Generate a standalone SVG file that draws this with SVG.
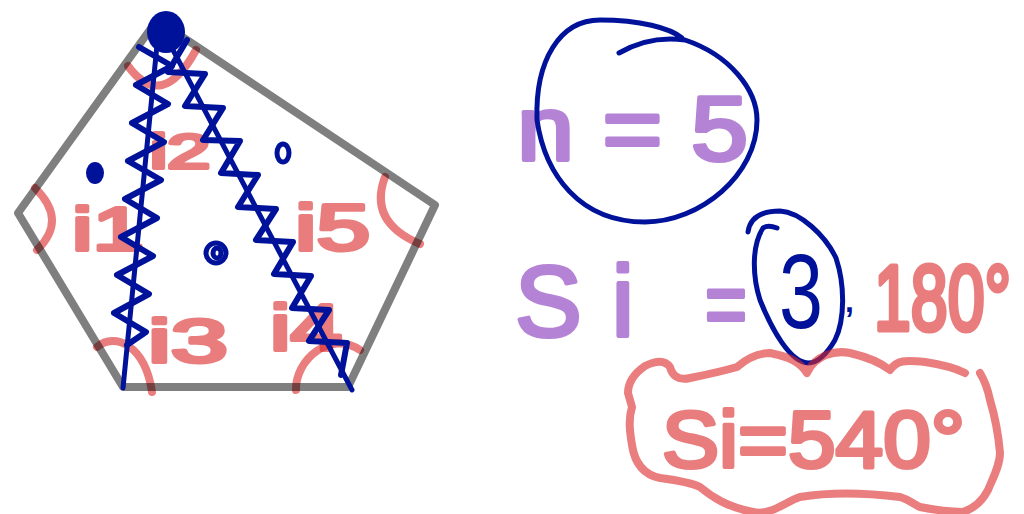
<svg xmlns="http://www.w3.org/2000/svg" width="1024" height="514" viewBox="0 0 1024 514">
<style>
.pk{fill:none;stroke:rgb(220,40,40);stroke-opacity:.6;stroke-width:8;stroke-linecap:round;stroke-linejoin:round}
.pkt{font-family:"Liberation Sans",Arial,sans-serif;fill:rgb(220,40,40);stroke:rgb(220,40,40);stroke-width:4;stroke-linejoin:round;opacity:.6}
.pu{font-family:"Liberation Sans",Arial,sans-serif;fill:rgb(120,30,180);stroke:rgb(120,30,180);stroke-width:4;stroke-linejoin:round;opacity:.55}
.bl{fill:none;stroke:#00129a;stroke-width:5;stroke-linecap:round;stroke-linejoin:round}
.zz{fill:none;stroke:#00129a;stroke-width:6;stroke-linecap:round;stroke-linejoin:round}
.blt{font-family:"Liberation Sans",Arial,sans-serif;fill:#00129a}
.gr{fill:none;stroke:#000;stroke-opacity:.5;stroke-width:8;stroke-linejoin:round}
</style>
<rect width="1024" height="514" fill="#fff"/>

<g id="angles">
<path class="pk" d="M35,188 Q68,220 37,250"/>
<path class="pk" d="M128,66 Q162,112 196,50"/>
<path class="pk" d="M385,177 Q368,222 420,244"/>
<path class="pk" d="M97,347 C115,332 145,345 152,392"/>
<path class="pk" d="M296,390 C295,360 330,330 360,350"/>
</g>
<g id="labels">
<text class="pkt" x="72" y="250" font-size="62" textLength="72" lengthAdjust="spacingAndGlyphs">i1</text>
<text class="pkt" x="150" y="168" font-size="48" textLength="60" lengthAdjust="spacingAndGlyphs">i2</text>
<text class="pkt" x="295" y="250" font-size="64" textLength="75" lengthAdjust="spacingAndGlyphs">i5</text>
<text class="pkt" x="148" y="362" font-size="62" textLength="80" lengthAdjust="spacingAndGlyphs">i3</text>
<text class="pkt" x="270" y="350" font-size="64" textLength="72" lengthAdjust="spacingAndGlyphs">i4</text>
</g>

<g id="pentagon">
<polygon class="gr" points="18,213 123,387 348,387 435,205 157,20"/>
</g>

<g id="diagonals">
<line class="bl" x1="157" y1="45" x2="123" y2="388"/>
<line class="bl" x1="173" y1="50" x2="352" y2="390"/>
<polyline class="zz" points="139,47 172,66 136,85 168,104 132,123 164,142 128,161 161,180 125,199 157,218 121,237 153,256 117,275 149,294 114,313 146,332 127,345"/>
<polyline class="zz" points="187,40 168,72 205,74 185,106 223,108 203,140 240,141 221,173 258,175 238,207 276,209 256,240 293,242 274,274 311,276 292,308 329,310 309,341 347,343 341,375"/>
<ellipse cx="166" cy="32" rx="19" ry="21" fill="#00129a"/>
<ellipse cx="95" cy="173" rx="9" ry="11" fill="#00129a"/>
<ellipse class="bl" cx="283" cy="153" rx="6" ry="9"/>
<ellipse class="bl" cx="216" cy="253" rx="10" ry="10"/>
<ellipse class="bl" cx="217" cy="253" rx="4" ry="5"/>
</g>

<g id="n-equals">
<text class="pu" x="517" y="160" font-size="90" textLength="231" lengthAdjust="spacingAndGlyphs">n = 5</text>
<path class="bl" d="M619,53 Q650,35 685,40 C730,55 757,90 757,120 C757,175 700,222 645,222 C580,222 545,175 537,120 C535,60 560,20 600,20 C640,20 670,28 682,38"/>
</g>

<g id="sum-formula">
<text class="pu" x="515" y="336" font-size="100" letter-spacing="30">Si</text>
<text class="pu" x="705" y="335" font-size="90" textLength="42" lengthAdjust="spacingAndGlyphs">=</text>
<text class="blt" x="779" y="328" font-size="105" textLength="44" lengthAdjust="spacingAndGlyphs">3</text>
<path class="bl" d="M748,232 C750,218 760,211 780,211 C800,212 825,235 836,258 C845,285 845,320 835,340 C828,352 818,363 808,363 C790,362 772,330 760,300 C752,275 752,245 763,228 C767,225 772,226 777,228"/>
<text class="blt" x="845" y="312" font-size="32" font-weight="bold">,</text>
<text class="pkt" transform="translate(874,330) scale(0.92,1.3)" font-size="72">180°</text>
</g>

<g id="result">
<path class="pk" d="M965,373 C955,368 945,365 925,362 C905,360 897,360 890,370 C880,362 867,357 850,353 C835,350 815,355 807,373 C800,362 790,357 770,353 C755,353 745,360 737,367 C720,372 705,375 690,378 C678,381 672,375 670,367 C665,360 657,360 645,366 C632,375 628,385 628,393 L632,407 C628,420 630,433 632,445 C635,465 645,475 660,478 C675,480 690,482 700,487 C712,497 727,507 753,512 C770,516 785,502 800,497 C830,492 867,493 900,497 C910,500 915,505 920,507 C935,510 950,512 963,512 C975,508 983,500 988,490 C993,478 1000,465 1000,453 C998,430 993,410 990,400 C987,385 983,378 980,373"/>
<text class="pkt" x="662" y="467" font-size="80" textLength="303" lengthAdjust="spacingAndGlyphs">Si=540°</text>
</g>
</svg>
